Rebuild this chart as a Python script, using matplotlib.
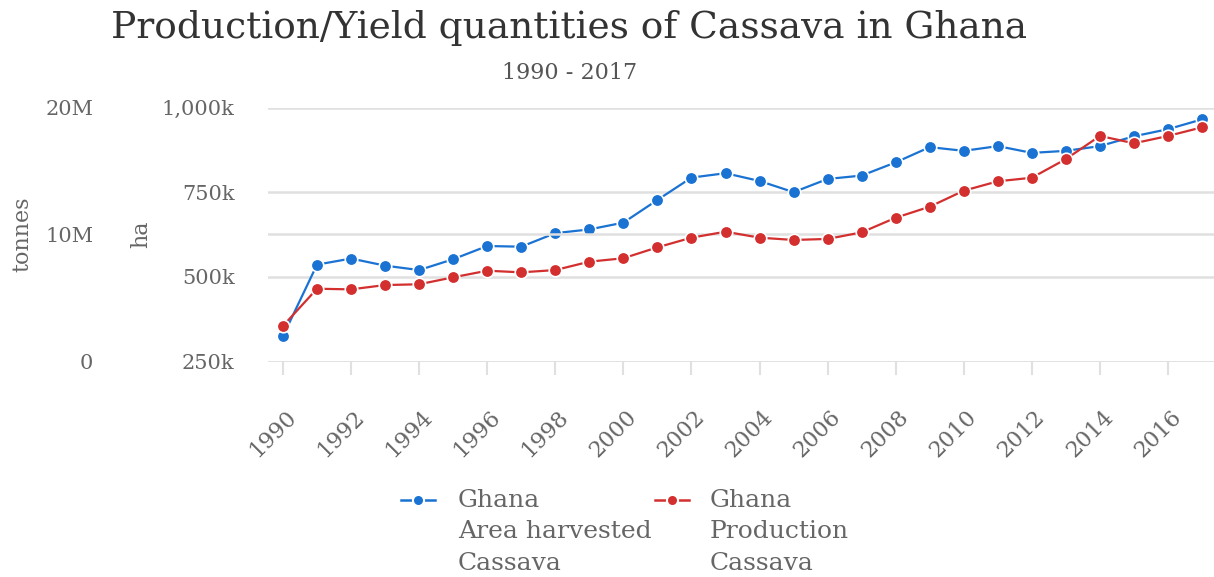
import matplotlib
matplotlib.use("Agg")
import matplotlib.pyplot as plt
from matplotlib.lines import Line2D
from matplotlib.ticker import FuncFormatter
from matplotlib.transforms import ScaledTranslation

plt.rcParams['font.family'] = ['DejaVu Serif']

# Cassava in Ghana, FAO figures
years = list(range(1990, 2018))
area_harvested_ha = [325, 536, 554, 533, 520, 552, 591, 589, 629, 640, 660, 727,
                     793, 806, 783, 750, 789, 799, 838, 883, 872, 886, 866, 872,
                     886, 915, 936, 965]  # thousand ha
production_t = [2.80, 5.73, 5.68, 6.02, 6.08, 6.63, 7.15, 7.02, 7.20, 7.86, 8.13, 8.99,
                9.75, 10.22, 9.75, 9.57, 9.65, 10.17, 11.32, 12.19, 13.45, 14.19, 14.47, 15.94,
                17.76, 17.18, 17.76, 18.44]  # million tonnes

ha_ticks = [250, 500, 750, 1000]
tonnes_ticks = [0, 10, 20]
year_ticks = list(range(1990, 2017, 2))

blue = '#1a73d3'
red = '#d32f2f'
grid_c = '#e0e0e0'
txt_c = '#666666'

fig = plt.figure(figsize=(12.14, 5.77), dpi=100)
ax = fig.add_axes([268 / 1214, 1 - 361.5 / 577, 946 / 1214, 254 / 577])
ax2 = ax.twinx()

for a in (ax, ax2):
    for s in a.spines.values():
        s.set_visible(False)
    a.set_xlim(1989.56, 2017.35)

ax.set_ylim(250, 1000)
ax2.set_ylim(0, 20)
ax.set_yticks(ha_ticks)
ax2.set_yticks(tonnes_ticks)
ax.yaxis.set_major_formatter(FuncFormatter(lambda v, p: f"{int(v):,}k"))
ax2.yaxis.set_major_formatter(FuncFormatter(lambda v, p: f"{int(v)}M" if v else "0"))

ax.grid(axis='y', color=grid_c, lw=1.8)
ax2.grid(axis='y', color=grid_c, lw=1.8)
ax.set_axisbelow(True)
ax2.set_axisbelow(True)

ax2.yaxis.tick_left()
ax2.yaxis.set_label_position('left')
ax.tick_params(axis='y', length=0, pad=24, labelsize=15, labelcolor=txt_c)
ax2.tick_params(axis='y', length=0, pad=126, labelsize=15, labelcolor=txt_c)

ax.set_xticks(year_ticks)
ax.set_xticklabels([str(y) for y in year_ticks], rotation=45, ha='right',
                   rotation_mode='anchor')
ax.tick_params(axis='x', length=9, width=1.5, color=grid_c, pad=7,
               labelsize=16, labelcolor=txt_c)
ax2.tick_params(axis='x', length=0)
# push the rotated year labels further below their ticks
shift = ScaledTranslation(2 / 100, -22 / 100, fig.dpi_scale_trans)
for lbl in ax.get_xticklabels():
    lbl.set_transform(lbl.get_transform() + shift)

ax.set_ylabel('ha', fontsize=16, color=txt_c)
ax2.set_ylabel('tonnes', fontsize=16, color=txt_c)
ax.yaxis.set_label_coords(-0.122, 0.5)
ax2.yaxis.set_label_coords(-0.248, 0.5)

ax.plot(years, area_harvested_ha, color=blue, lw=1.6, marker='o', ms=9,
        mec='white', mew=1.2, clip_on=False)
ax2.plot(years, production_t, color=red, lw=1.6, marker='o', ms=9,
         mec='white', mew=1.2, clip_on=False)

fig.text(0.469, 0.951, 'Production/Yield quantities of Cassava in Ghana',
         ha='center', va='center', fontsize=27, color='#333333')
fig.text(0.469, 0.873, '1990 - 2017', ha='center', va='center',
         fontsize=16, color='#555555')

# legend drawn by hand so the marker sits on the first text line
entries = [(blue, 'Ghana\nArea harvested\nCassava', 401, 458),
           (red, 'Ghana\nProduction\nCassava', 655, 710)]
for color, label, hx, tx in entries:
    y = 1 - 500 / 577
    fig.add_artist(Line2D([hx / 1214, (hx + 34) / 1214], [y, y], color=color, lw=1.8))
    fig.add_artist(Line2D([(hx + 17) / 1214], [y], color=color, marker='o', ms=8,
                          mec='white', mew=1.5))
    fig.text(tx / 1214, 1 - 532 / 577, label, ha='left', va='center', fontsize=18,
             color=txt_c, linespacing=1.47, transform=fig.transFigure)

fig.savefig('out.png', dpi=100)
